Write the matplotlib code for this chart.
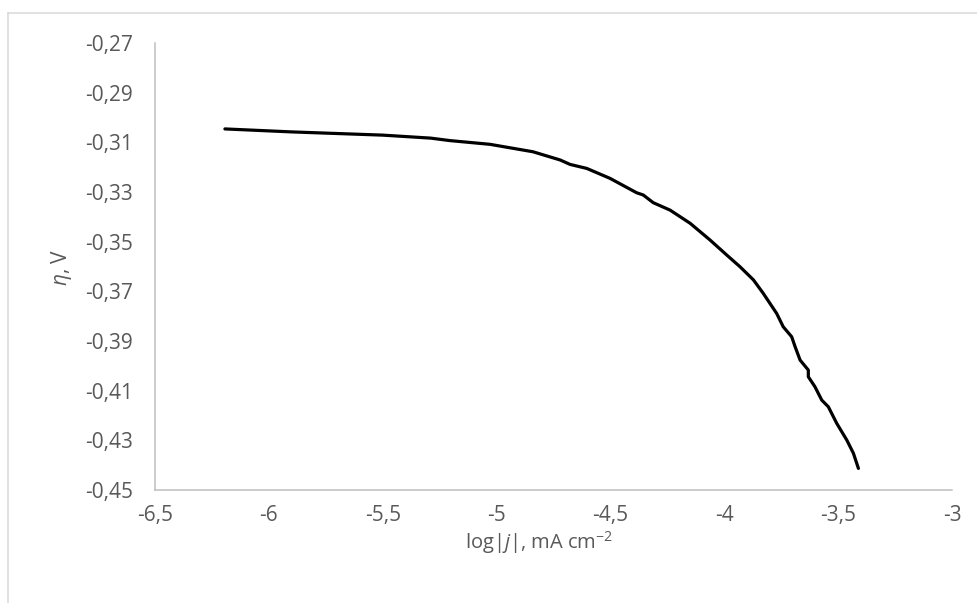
import matplotlib
matplotlib.use("Agg")
import matplotlib.pyplot as plt
from matplotlib.lines import Line2D
from matplotlib.ticker import FuncFormatter

plt.rcParams['font.family'] = ['Open Sans', 'DejaVu Sans']
plt.rcParams['mathtext.fontset'] = 'custom'
plt.rcParams['mathtext.rm'] = 'Open Sans'
plt.rcParams['mathtext.it'] = 'Open Sans:italic'

# data
log_j = [-6.193, -5.9, -5.5, -5.29, -5.205, -5.029, -4.84, -4.721, -4.677,
         -4.604, -4.502, -4.385, -4.356, -4.312, -4.238, -4.15, -4.063,
         -3.989, -3.931, -3.872, -3.829, -3.77, -3.741, -3.704, -3.689,
         -3.667, -3.631, -3.631, -3.602, -3.572, -3.543, -3.506, -3.462,
         -3.433, -3.411]
eta = [-0.3046, -0.3058, -0.3071, -0.3083, -0.3093, -0.3108, -0.3138, -0.3171,
       -0.3189, -0.3205, -0.3245, -0.3303, -0.3312, -0.3343, -0.3373, -0.3426,
       -0.3493, -0.3554, -0.3601, -0.3654, -0.3708, -0.3789, -0.3843, -0.3883,
       -0.3923, -0.3977, -0.4017, -0.4044, -0.4084, -0.4138, -0.4165, -0.4232,
       -0.4299, -0.4352, -0.4413]

x_ticks = [-6.5, -6, -5.5, -5, -4.5, -4, -3.5, -3]
y_ticks = [-0.45, -0.43, -0.41, -0.39, -0.37, -0.35, -0.33, -0.31, -0.29, -0.27]

grey = '#595959'
axis_grey = '#bfbfbf'

fig = plt.figure(figsize=(9.77, 6.03), dpi=100)
ax = fig.add_axes([155/977, 1-490/603, (952-155)/977, (490-43)/603])

ax.plot(log_j, eta, color='black', linewidth=2.3, solid_capstyle='round',
        solid_joinstyle='round')

ax.set_xlim(-6.5, -3)
ax.set_ylim(-0.45, -0.27)
ax.set_xticks(x_ticks)
ax.set_yticks(y_ticks)
ax.xaxis.set_major_formatter(FuncFormatter(lambda v, p: ('%g' % v).replace('.', ',')))
ax.yaxis.set_major_formatter(FuncFormatter(lambda v, p: ('%.2f' % v).replace('.', ',')))
ax.tick_params(axis='both', length=0, labelsize=15, labelcolor=grey)
ax.tick_params(axis='y', pad=16)
ax.tick_params(axis='x', pad=11)

for s in ['top', 'right']:
    ax.spines[s].set_visible(False)
for s in ['left', 'bottom']:
    ax.spines[s].set_color(axis_grey)
    ax.spines[s].set_linewidth(1.1)

fig.text(539/977, 1-549/603, r"log|$\it{j}$|, mA cm$^{-2}$", ha='center', va='baseline',
         fontsize=14.5, color=grey)
fig.text(62/977, 1-267/603, r"$\it{\eta}$, V", ha='center', va='center',
         rotation=90, fontsize=15, color=grey)

# chart border (only top and left visible in the crop)
fig.add_artist(Line2D([8/977, 1], [1-13/603, 1-13/603], color='#d9d9d9', linewidth=1.1,
                      transform=fig.transFigure))
fig.add_artist(Line2D([8/977, 8/977], [0, 1-13/603], color='#d9d9d9', linewidth=1.1,
                      transform=fig.transFigure))

fig.savefig('out.png', dpi=100)
